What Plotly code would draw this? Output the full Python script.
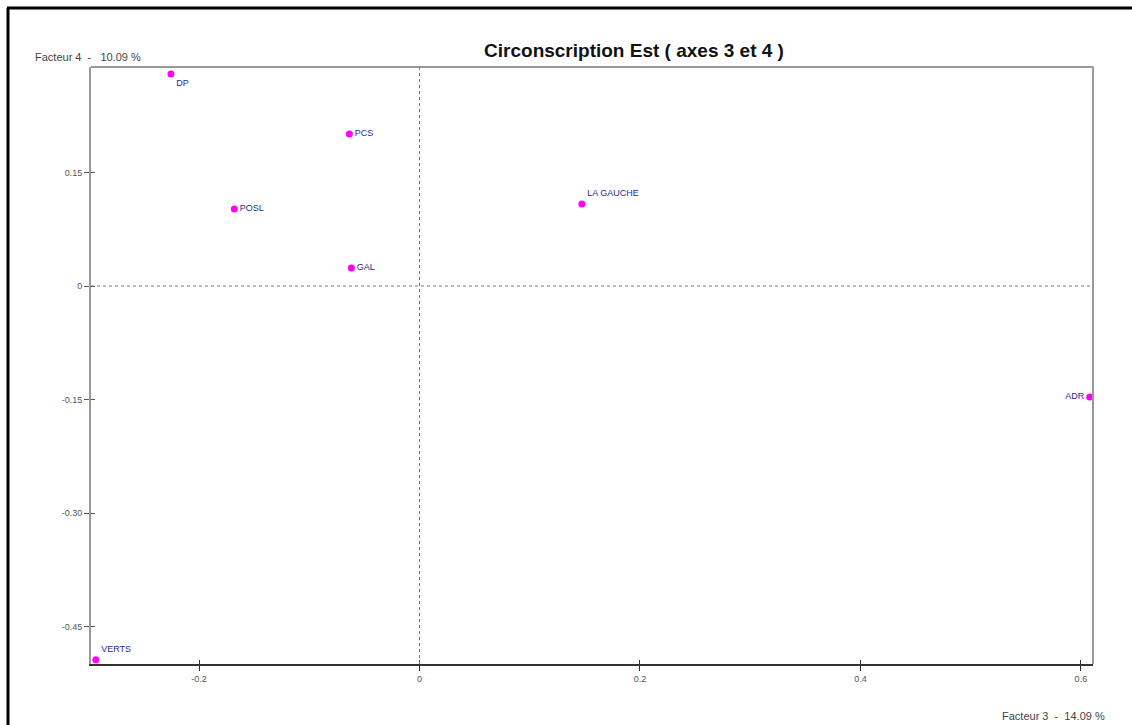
import plotly.graph_objects as go

# Party coordinates on factor 3 (x) and factor 4 (y)
parties = ["DP", "PCS", "POSL", "GAL", "LA GAUCHE", "ADR", "VERTS"]
factor3 = [-0.2255, -0.0636, -0.168, -0.0618, 0.1473, 0.608, -0.2936]
factor4 = [0.280, 0.2009, 0.1018, 0.0238, 0.1084, -0.1467, -0.494]
label_pos = ["bottom right", "middle right", "middle right", "middle right",
             "top right", "middle left", "top right"]

x_ticks = [-0.2, 0, 0.2, 0.4, 0.6]
x_ticktext = ["-0.2", "0", "0.2", "0.4", "0.6"]
y_ticks = [0.15, 0, -0.15, -0.30, -0.45]
y_ticktext = ["0.15", "0", "-0.15", "-0.30", "-0.45"]

x_range = [-0.298, 0.611]
y_range = [-0.4995, 0.2894]

FONT = "Liberation Sans, Arial, sans-serif"
NB = "\u00a0"

fig = go.Figure()
fig.add_trace(go.Scatter(
    x=factor3, y=factor4, mode="markers+text",
    text=parties, textposition=label_pos,
    marker=dict(color="#ff00ff", size=7),
    textfont=dict(family=FONT, size=9, color="#2a2a8f"),
    cliponaxis=False, showlegend=False, hoverinfo="text",
))

# Transparent trace on the overlay axes so they render their inward ticks
fig.add_trace(go.Scatter(x=[0], y=[0], xaxis="x2", yaxis="y2", mode="markers",
                         marker=dict(opacity=0), showlegend=False,
                         hoverinfo="skip"))

fig.update_layout(
    width=1132, height=725,
    margin=dict(l=91, r=39, t=67, b=61),
    paper_bgcolor="white", plot_bgcolor="white",
    title=dict(text="<b>Circonscription Est ( axes 3 et 4 )</b>",
               x=(634 - 91) / 1002, xref="paper", xanchor="center",
               y=1 - 50 / 725, yanchor="middle",
               font=dict(family=FONT, size=19, color="#111")),
    xaxis=dict(range=x_range, tickvals=x_ticks, ticktext=x_ticktext,
               showgrid=False, zeroline=False,
               showline=True, linecolor="#333", linewidth=2,
               ticks="outside", ticklen=5, tickcolor="#333", tickwidth=1,
               tickfont=dict(family=FONT, size=9, color="#555")),
    yaxis=dict(range=y_range, tickvals=y_ticks, ticktext=y_ticktext,
               showgrid=False, zeroline=False,
               showline=True, linecolor="#999", linewidth=2,
               ticks="outside", ticklen=5, tickcolor="#555", tickwidth=1,
               tickfont=dict(family=FONT, size=9, color="#555")),
    xaxis2=dict(range=x_range, overlaying="x", anchor="y", side="bottom",
                tickvals=x_ticks, showticklabels=False, showgrid=False,
                zeroline=False, showline=False,
                ticks="inside", ticklen=4, tickcolor="#333", tickwidth=1),
    yaxis2=dict(range=y_range, overlaying="y", anchor="x", side="left",
                tickvals=y_ticks, showticklabels=False, showgrid=False,
                zeroline=False, showline=False,
                ticks="inside", ticklen=4, tickcolor="#555", tickwidth=1),
)

# Plot frame (top and right edges), dashed origin lines and outer border
fig.add_shape(type="line", xref="paper", yref="paper", x0=0, x1=1, y0=1, y1=1,
              line=dict(color="#999", width=2))
fig.add_shape(type="line", xref="paper", yref="paper", x0=1, x1=1, y0=0, y1=1,
              line=dict(color="#999", width=2))
fig.add_shape(type="line", xref="x", yref="paper", x0=0, x1=0, y0=0, y1=1,
              line=dict(color="#777", width=1, dash="dot"))
fig.add_shape(type="line", xref="paper", yref="y", x0=0, x1=1, y0=0, y1=0,
              line=dict(color="#777", width=1, dash="dot"))
fig.add_shape(type="line", xref="paper", yref="paper",
              x0=(8 - 91) / 1002, x1=(8 - 91) / 1002, y0=-0.2, y1=(664 - 8) / 597,
              line=dict(color="black", width=3))
fig.add_shape(type="line", xref="paper", yref="paper",
              x0=(7 - 91) / 1002, x1=1.1, y0=(664 - 8) / 597, y1=(664 - 8) / 597,
              line=dict(color="black", width=3))

# Axis captions
fig.add_annotation(text=f"Facteur 4 {NB}-{NB}{NB} 10.09 %", xref="paper", yref="paper",
                   x=(33 - 91) / 1002, y=(664 - 57) / 597,
                   xanchor="left", yanchor="middle", showarrow=False,
                   font=dict(family=FONT, size=11, color="#444"))
fig.add_annotation(text=f"Facteur 3 {NB}-{NB}{NB}14.09 %", xref="paper", yref="paper",
                   x=(1000 - 91) / 1002, y=(664 - 716) / 597,
                   xanchor="left", yanchor="middle", showarrow=False,
                   font=dict(family=FONT, size=11, color="#444"))

fig.write_html("out.html")
